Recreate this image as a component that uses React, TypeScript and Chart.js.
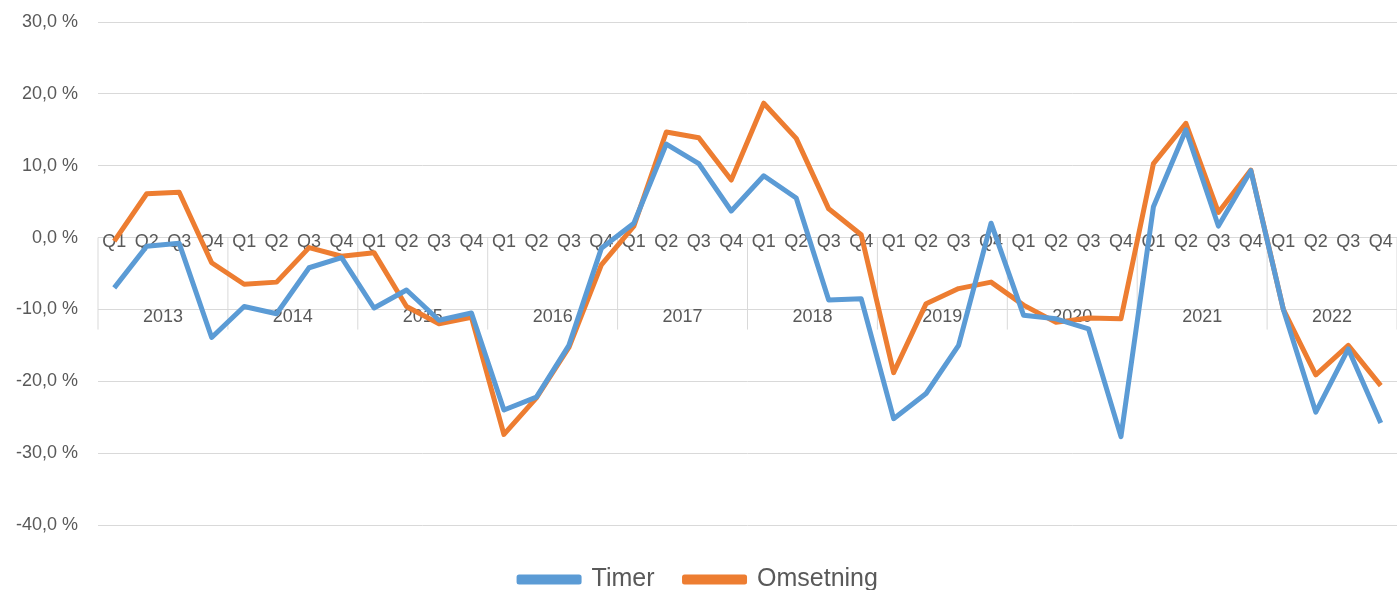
import React, { useEffect, useRef } from "react";
import { Chart, registerables } from "chart.js";
Chart.register(...registerables);

const years = ["2013","2014","2015","2016","2017","2018","2019","2020","2021","2022"];
const quarters = ["Q1","Q2","Q3","Q4"];
const timer = [-7.0,-1.2,-0.8,-13.9, -9.6,-10.6,-4.2,-2.8, -9.8,-7.3,-11.5,-10.5, -24.0,-22.2,-15.0,-1.5, 2.0,13.0,10.3,3.7, 8.6,5.5,-8.7,-8.5, -25.2,-21.7,-15.0,2.0, -10.8,-11.3,-12.7,-27.7, 4.3,15.0,1.6,9.3, -10.0,-24.3,-15.5,-25.8];
const omsetning = [-0.5,6.1,6.3,-3.5, -6.5,-6.2,-1.4,-2.6, -2.1,-9.6,-12.0,-11.1, -27.4,-22.3,-15.3,-3.8, 1.6,14.7,13.9,8.0, 18.7,13.8,4.0,0.4, -18.8,-9.2,-7.1,-6.2, -9.4,-11.8,-11.2,-11.3, 10.3,15.9,3.5,9.4, -10.0,-19.1,-15.0,-20.6];

export default function App() {
  const ref = useRef<HTMLCanvasElement>(null);
  useEffect(() => {
    document.body.style.margin = "0";
    const labels = years.flatMap(y => quarters.map(q => q + " " + y));
    const catPlugin = {
      id: "cats",
      beforeDatasetsDraw(chart: any) {
        const ctx = chart.ctx, xs = chart.scales.x, ys = chart.scales.y;
        const y0 = ys.getPixelForValue(0);
        ctx.save();
        ctx.fillStyle = "#595959";
        ctx.font = "18px 'Liberation Sans', Arial, sans-serif";
        ctx.textAlign = "center";
        ctx.textBaseline = "middle";
        labels.forEach((_, i) => {
          ctx.fillText(quarters[i % 4], xs.getPixelForValue(i), y0 + 4);
        });
        years.forEach((y, k) => {
          const xm = (xs.getPixelForValue(4 * k + 1) + xs.getPixelForValue(4 * k + 2)) / 2;
          ctx.fillText(y, xm, y0 + 79);
        });
        ctx.strokeStyle = "#d9d9d9";
        ctx.lineWidth = 1;
        const step = xs.getPixelForValue(1) - xs.getPixelForValue(0);
        for (let k = 0; k <= years.length; k++) {
          const x = k === 0 ? chart.chartArea.left : xs.getPixelForValue(4 * k - 1) + step / 2;
          ctx.beginPath(); ctx.moveTo(x, y0); ctx.lineTo(x, y0 + 92); ctx.stroke();
        }
        ctx.restore();
      },
    };
    const chart = new Chart(ref.current!, {
      type: "line",
      data: {
        labels,
        datasets: [
          { label: "Timer", data: timer, borderColor: "#5b9bd5", backgroundColor: "#5b9bd5", borderWidth: 5, pointRadius: 0, tension: 0, borderJoinStyle: "round" },
          { label: "Omsetning", data: omsetning, borderColor: "#ed7d31", backgroundColor: "#ed7d31", borderWidth: 5, pointRadius: 0, tension: 0, borderJoinStyle: "round" },
        ],
      },
      options: {
        animation: false,
        responsive: false,
        layout: { padding: { top: 22, right: 0, bottom: -12, left: 0 } },
        scales: {
          x: { offset: true, display: false, grid: { display: false } },
          y: {
            min: -40, max: 30,
            afterFit: (s: any) => { s.width = 98; s.paddingTop = 0; s.paddingBottom = 0; },
            ticks: { stepSize: 10, color: "#595959", font: { size: 18, family: "'Liberation Sans', Arial, sans-serif" }, padding: 20,
              callback: (v: any) => Number(v).toFixed(1).replace(".", ",") + " %" },
            grid: { color: "#d9d9d9", drawTicks: false },
            border: { display: false },
          },
        },
        plugins: {
          tooltip: { enabled: false },
          legend: {
            position: "bottom",
            title: { display: true, text: " ", font: { size: 1, lineHeight: 1 }, padding: { top: 0, bottom: 11 } },
            labels: { boxWidth: 60, boxHeight: 5, color: "#595959", padding: 30, font: { size: 25, family: "'Liberation Sans', Arial, sans-serif" } },
          },
        },
      },
      plugins: [catPlugin],
    });
    return () => chart.destroy();
  }, []);
  return <canvas ref={ref} width={1397} height={590} style={{ display: "block" }} />;
}
